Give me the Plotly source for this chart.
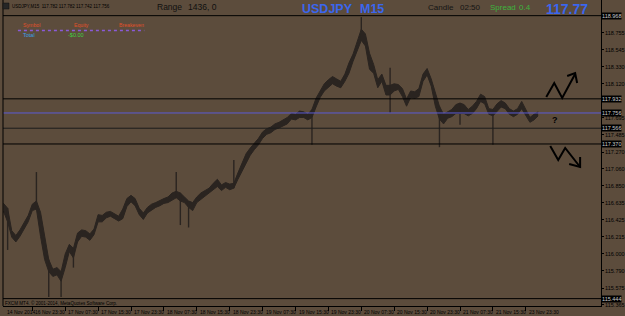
import plotly.graph_objects as go

# ---------------- data ----------------
BAR_STEP = 4  # one sample every 4 M15 bars (1 hour)
body_top = [116.63, 116.57, 116.29, 116.23, 116.30, 116.39, 116.48, 116.62, 116.66, 116.52,
            116.20, 115.93, 115.81, 115.83, 115.78, 116.00, 116.12, 116.07, 116.26, 116.30,
            116.29, 116.25, 116.31, 116.49, 116.48, 116.52, 116.53, 116.50, 116.47, 116.56,
            116.69, 116.73, 116.69, 116.57, 116.51, 116.58, 116.62, 116.64, 116.67, 116.69,
            116.71, 116.76, 116.78, 116.76, 116.71, 116.66, 116.64, 116.71, 116.76, 116.79,
            116.82, 116.88, 116.93, 116.86, 116.89, 116.87, 116.88, 117.01, 117.12, 117.25,
            117.32, 117.38, 117.44, 117.52, 117.56, 117.58, 117.62, 117.64, 117.67, 117.70,
            117.75, 117.74, 117.78, 117.77, 117.74, 117.80, 117.94, 118.03, 118.12, 118.17,
            118.21, 118.18, 118.15, 118.24, 118.38, 118.49, 118.64, 118.80, 118.74, 118.50,
            118.36, 118.17, 118.24, 118.10, 118.10, 118.12, 118.11, 118.06, 117.93, 118.03,
            118.02, 118.06, 118.24, 118.31, 118.18, 118.02, 117.84, 117.74, 117.77, 117.80,
            117.86, 117.88, 117.86, 117.80, 117.84, 117.90, 117.99, 117.96, 117.81, 117.80,
            117.87, 117.91, 117.88, 117.81, 117.78, 117.81, 117.90, 117.80, 117.70, 117.74,
            117.77]
body_bottom = [116.53, 116.40, 116.21, 116.15, 116.22, 116.31, 116.40, 116.54, 116.56, 116.22,
               115.93, 115.78, 115.72, 115.74, 115.66, 115.83, 116.03, 115.95, 116.15, 116.22,
               116.21, 116.17, 116.24, 116.40, 116.40, 116.45, 116.47, 116.44, 116.41, 116.44,
               116.59, 116.65, 116.60, 116.49, 116.43, 116.51, 116.55, 116.58, 116.60, 116.63,
               116.64, 116.67, 116.70, 116.66, 116.64, 116.58, 116.54, 116.64, 116.68, 116.72,
               116.75, 116.80, 116.84, 116.79, 116.83, 116.80, 116.82, 116.93, 117.03, 117.15,
               117.23, 117.30, 117.36, 117.44, 117.49, 117.51, 117.55, 117.57, 117.60, 117.62,
               117.68, 117.67, 117.70, 117.70, 117.67, 117.70, 117.83, 117.95, 118.03, 118.07,
               118.12, 118.09, 118.07, 118.15, 118.25, 118.40, 118.53, 118.66, 118.59, 118.30,
               118.25, 118.07, 118.15, 117.98, 117.98, 118.03, 118.05, 117.96, 117.84, 117.95,
               117.94, 117.96, 118.15, 118.23, 118.09, 117.84, 117.68, 117.62, 117.69, 117.71,
               117.75, 117.75, 117.75, 117.72, 117.75, 117.81, 117.90, 117.87, 117.74, 117.72,
               117.78, 117.83, 117.81, 117.74, 117.71, 117.74, 117.81, 117.72, 117.64, 117.67,
               117.72]
x_bars = [i * BAR_STEP for i in range(len(body_top))]

# long wicks (sample index, extreme price)
spike_idx = [1, 8, 11, 14, 17, 42, 43, 45, 56, 75, 87, 94, 94, 106, 111, 119]
spike_price = [116.05, 117.02, 115.464, 115.464, 115.83, 117.02, 116.36, 116.33, 117.17, 117.36,
               118.95, 118.32, 117.76, 117.33, 117.61, 117.36]

date_tick_bars = [0, 28, 60, 92, 124, 156, 188, 220, 252, 284, 316, 348, 380, 412, 444, 476, 508]
date_tick_text = ["14 Nov 2014", "16 Nov 23:30", "17 Nov 07:30", "17 Nov 15:30", "17 Nov 23:30",
                  "18 Nov 07:30", "18 Nov 15:30", "18 Nov 23:30", "19 Nov 07:30", "19 Nov 15:30",
                  "19 Nov 23:30", "20 Nov 07:30", "20 Nov 15:30", "20 Nov 23:30", "21 Nov 07:30",
                  "21 Nov 15:30", "23 Nov 23:30"]

price_ticks = [118.755, 118.545, 118.330, 118.120, 117.695, 117.485, 117.270, 117.060,
               116.850, 116.635, 116.425, 116.215, 116.000, 115.790, 115.575, 115.365]

level_prices = [118.968, 117.932, 117.756, 117.566, 117.370, 115.444]
level_colors = ["#000000", "#000000", "#5b5bd6", "#1c1c1c", "#000000", "#000000"]

symbol_name = "USDJPY"
timeframe = "M15"
bar_ohlc = [117.782, 117.782, 117.742, 117.756]
range_text = "1436, 0"
candle_left = "02:50"
spread = "0.4"
bid_big = "117.77"

# ---------------- style / layout ----------------
W, H = 625, 316
ML, MR, MT, MB = 3, 21, 0, 10
PW, PH = W - ML - MR, H - MT - MB
BG = "#5c4c3c"
BAR_COL = "#2a2420"
FONT = "Liberation Sans"


def px(x):
    return (x - ML) / PW


def py(y):
    return (MT + PH - y) / PH


fig = go.Figure()
fig.add_trace(go.Scatter(x=x_bars, y=body_top, mode="lines", line=dict(color=BAR_COL, width=1),
                         hoverinfo="skip", showlegend=False))
fig.add_trace(go.Scatter(x=x_bars, y=body_bottom, mode="lines", line=dict(color=BAR_COL, width=1),
                         fill="tonexty", fillcolor=BAR_COL, hoverinfo="skip", showlegend=False))
sx, sy = [], []
for k, p in zip(spike_idx, spike_price):
    mid = body_bottom[k] if p > body_top[k] else body_top[k]
    sx += [x_bars[k], x_bars[k], None]
    sy += [mid, p, None]
fig.add_trace(go.Scatter(x=sx, y=sy, mode="lines", line=dict(color=BAR_COL, width=1.4),
                         hoverinfo="skip", showlegend=False))

shapes = []
annotations = []

for p, c in zip(level_prices, level_colors):
    shapes.append(dict(type="line", xref="paper", x0=0, x1=1, yref="y", y0=p, y1=p,
                       line=dict(color=c, width=1)))
    annotations.append(dict(xref="paper", x=1, xanchor="left", xshift=0, yref="y", y=p,
                            text=f"{p:.3f}", showarrow=False, bgcolor="#000000", borderpad=0,
                            font=dict(family=FONT, size=5.5, color="#c8c8c8")))

# left border
shapes.append(dict(type="line", xref="paper", x0=0, x1=0, yref="paper", y0=0, y1=1,
                   line=dict(color="#000000", width=1)))

# date labels
for b, t in zip(date_tick_bars, date_tick_text):
    annotations.append(dict(xref="x", x=b, xanchor="left", xshift=1, yref="paper", y=0,
                            yanchor="top", yshift=-1, text=t, showarrow=False,
                            font=dict(family=FONT, size=5, color="#000000")))


def ann(text, x, y, size, color, bold=False, anchor="left"):
    annotations.append(dict(xref="paper", yref="paper", x=px(x), y=py(y), xanchor=anchor,
                            yanchor="middle", text=f"<b>{text}</b>" if bold else text,
                            showarrow=False, font=dict(family=FONT, size=size, color=color)))


# top-left info box
shapes.append(dict(type="rect", xref="paper", yref="paper", x0=px(3), x1=px(9), y0=py(9), y1=py(3),
                   fillcolor="#262626", line=dict(color="#101010", width=0.5)))
ann(f"{symbol_name},{timeframe}  " + " ".join(f"{v:.3f}" for v in bar_ohlc), 10, 6, 4.5, "#000000")

ann("Range", 156, 7, 8.5, "#101010")
ann(range_text, 187, 7, 8.5, "#101010")
ann(symbol_name, 301, 9, 12.5, "#3a66ee", bold=True)
ann(timeframe, 360, 9, 12.5, "#3a66ee", bold=True)
ann("Candle", 428, 7, 8, "#141414")
ann(candle_left, 460, 7, 8, "#141414")
ann("Spread", 490, 7, 8, "#3cb43c")
ann(spread, 520, 7, 8, "#3cb43c")
ann(bid_big, 547, 9, 14, "#3a66ee", bold=True)

ann("Symbol", 21, 25, 5.2, "#e0502a")
ann("Equity", 72, 25, 5.2, "#e0502a")
ann("Breakeven", 118, 25, 5.2, "#e0502a")
shapes.append(dict(type="line", xref="paper", yref="paper", x0=px(18), x1=px(145), y0=py(30.5),
                   y1=py(30.5), line=dict(color="#8a5ad8", width=1.5, dash="dot")))
ann("Total", 21, 35, 5.5, "#3aa0e8")
ann("-$0.00", 66, 35, 5.5, "#40d040")

ann("FXCM MT4. \u00a9 2001-2014, MetaQuotes Software Corp.", 3, 302.5, 4.6, "#000000")

ann("?", 553, 120, 9, "#000000", bold=True)


def path(points):
    return "M " + " L ".join(f"{px(a):.5f},{py(b):.5f}" for a, b in points)


arrow_style = dict(color="#000000", width=2)
shapes.append(dict(type="path", xref="paper", yref="paper",
                   path=path([(549, 97), (557, 83), (565, 98), (578, 74)]), line=arrow_style))
shapes.append(dict(type="path", xref="paper", yref="paper",
                   path=path([(570, 76), (578, 73), (580, 83)]), line=arrow_style))
shapes.append(dict(type="path", xref="paper", yref="paper",
                   path=path([(553, 146), (561, 160), (568, 148), (583, 167)]), line=arrow_style))
shapes.append(dict(type="path", xref="paper", yref="paper",
                   path=path([(572, 164), (583, 167), (583, 157)]), line=arrow_style))

fig.update_layout(
    width=W, height=H, margin=dict(l=ML, r=MR, t=MT, b=MB, pad=0),
    paper_bgcolor=BG, plot_bgcolor=BG, showlegend=False,
    xaxis=dict(range=[-0.5, PW / 1.0333 - 0.5], showgrid=False, zeroline=False, showline=True,
               linecolor="#000000", linewidth=1, tickvals=date_tick_bars[1:], ticks="outside",
               ticklen=4, tickcolor="#000000", showticklabels=False, fixedrange=True),
    yaxis=dict(range=[115.352, 119.163], side="right", showgrid=False, zeroline=False,
               showline=True, linecolor="#000000", linewidth=1, tickvals=price_ticks,
               ticktext=[f"{v:.3f}" for v in price_ticks], ticks="outside", ticklen=2,
               tickcolor="#000000", tickfont=dict(family=FONT, size=5.5, color="#000000"),
               fixedrange=True),
    shapes=shapes, annotations=annotations,
)

fig.write_html("out.html")
